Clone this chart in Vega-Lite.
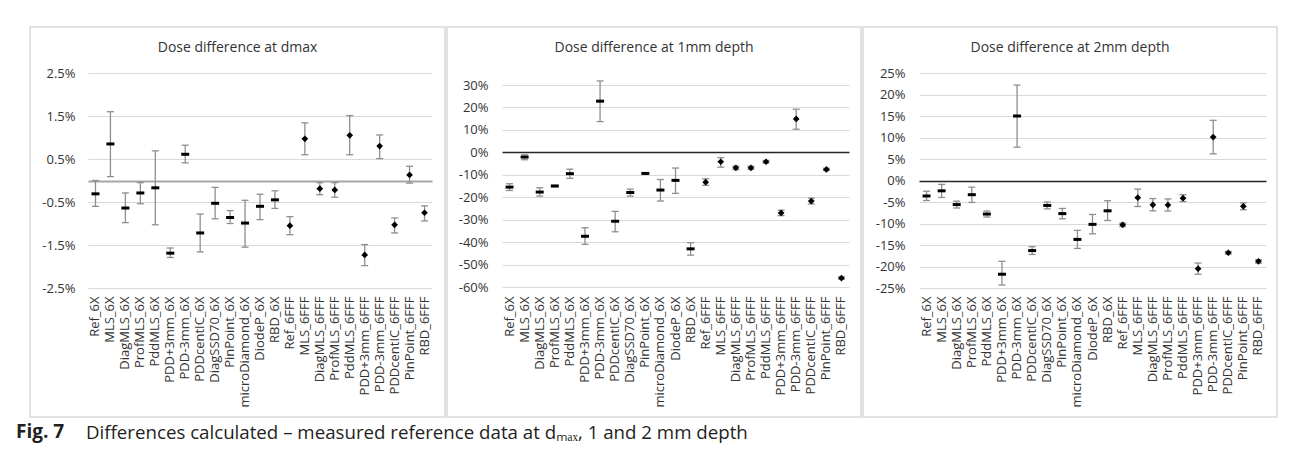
{
  "$schema": "https://vega.github.io/schema/vega-lite/v6.json",
  "background": "white",
  "padding": {"left": 16, "top": 26, "right": 4, "bottom": 4},
  "config": {
    "view": {"stroke": "#d9d9d9", "strokeWidth": 1.5},
    "font": "Open Sans",
    "axis": {"labelFont": "Open Sans", "labelFontSize": 13, "labelColor": "#333333", "ticks": false, "domain": false, "title": null},
    "title": {"font": "Open Sans", "fontSize": 14, "fontWeight": "normal", "color": "#333333"}
  },
  "datasets": {
    "d": [
      {"panel": "dmax", "name": "Ref_6X", "series": "6X", "value": -0.31, "low": -0.60, "high": 0.00},
      {"panel": "dmax", "name": "MLS_6X", "series": "6X", "value": 0.85, "low": 0.09, "high": 1.60},
      {"panel": "dmax", "name": "DiagMLS_6X", "series": "6X", "value": -0.64, "low": -0.98, "high": -0.29},
      {"panel": "dmax", "name": "ProfMLS_6X", "series": "6X", "value": -0.29, "low": -0.54, "high": -0.05},
      {"panel": "dmax", "name": "PddMLS_6X", "series": "6X", "value": -0.17, "low": -1.03, "high": 0.69},
      {"panel": "dmax", "name": "PDD+3mm_6X", "series": "6X", "value": -1.69, "low": -1.79, "high": -1.57},
      {"panel": "dmax", "name": "PDD-3mm_6X", "series": "6X", "value": 0.61, "low": 0.41, "high": 0.82},
      {"panel": "dmax", "name": "PDDcentIC_6X", "series": "6X", "value": -1.22, "low": -1.66, "high": -0.78},
      {"panel": "dmax", "name": "DiagSSD70_6X", "series": "6X", "value": -0.53, "low": -0.89, "high": -0.16},
      {"panel": "dmax", "name": "PinPoint_6X", "series": "6X", "value": -0.86, "low": -1.00, "high": -0.70},
      {"panel": "dmax", "name": "microDiamond_6X", "series": "6X", "value": -0.99, "low": -1.55, "high": -0.46},
      {"panel": "dmax", "name": "DiodeP_6X", "series": "6X", "value": -0.60, "low": -0.91, "high": -0.32},
      {"panel": "dmax", "name": "RBD_6X", "series": "6X", "value": -0.45, "low": -0.65, "high": -0.24},
      {"panel": "dmax", "name": "Ref_6FFF", "series": "6FFF", "value": -1.05, "low": -1.26, "high": -0.84},
      {"panel": "dmax", "name": "MLS_6FFF", "series": "6FFF", "value": 0.97, "low": 0.60, "high": 1.34},
      {"panel": "dmax", "name": "DiagMLS_6FFF", "series": "6FFF", "value": -0.19, "low": -0.33, "high": -0.05},
      {"panel": "dmax", "name": "ProfMLS_6FFF", "series": "6FFF", "value": -0.22, "low": -0.39, "high": -0.05},
      {"panel": "dmax", "name": "PddMLS_6FFF", "series": "6FFF", "value": 1.05, "low": 0.60, "high": 1.51},
      {"panel": "dmax", "name": "PDD+3mm_6FFF", "series": "6FFF", "value": -1.73, "low": -1.98, "high": -1.49},
      {"panel": "dmax", "name": "PDD-3mm_6FFF", "series": "6FFF", "value": 0.80, "low": 0.51, "high": 1.06},
      {"panel": "dmax", "name": "PDDcentIC_6FFF", "series": "6FFF", "value": -1.03, "low": -1.22, "high": -0.87},
      {"panel": "dmax", "name": "PinPoint_6FFF", "series": "6FFF", "value": 0.13, "low": -0.06, "high": 0.33},
      {"panel": "dmax", "name": "RBD_6FFF", "series": "6FFF", "value": -0.75, "low": -0.94, "high": -0.59},

      {"panel": "1mm", "name": "Ref_6X", "series": "6X", "value": -15.5, "low": -17.0, "high": -14.0},
      {"panel": "1mm", "name": "MLS_6X", "series": "6X", "value": -2.1, "low": -3.3, "high": -1.1},
      {"panel": "1mm", "name": "DiagMLS_6X", "series": "6X", "value": -17.7, "low": -19.5, "high": -15.8},
      {"panel": "1mm", "name": "ProfMLS_6X", "series": "6X", "value": -15.0, "low": -15.3, "high": -14.7},
      {"panel": "1mm", "name": "PddMLS_6X", "series": "6X", "value": -9.5, "low": -11.6, "high": -7.5},
      {"panel": "1mm", "name": "PDD+3mm_6X", "series": "6X", "value": -37.4, "low": -41.0, "high": -33.6},
      {"panel": "1mm", "name": "PDD-3mm_6X", "series": "6X", "value": 22.8, "low": 13.7, "high": 31.8},
      {"panel": "1mm", "name": "PDDcentIC_6X", "series": "6X", "value": -30.7, "low": -35.4, "high": -26.3},
      {"panel": "1mm", "name": "DiagSSD70_6X", "series": "6X", "value": -17.9, "low": -19.5, "high": -16.4},
      {"panel": "1mm", "name": "PinPoint_6X", "series": "6X", "value": -9.4, "low": -9.7, "high": -9.1},
      {"panel": "1mm", "name": "microDiamond_6X", "series": "6X", "value": -16.8, "low": -21.7, "high": -12.1},
      {"panel": "1mm", "name": "DiodeP_6X", "series": "6X", "value": -12.5, "low": -18.3, "high": -7.0},
      {"panel": "1mm", "name": "RBD_6X", "series": "6X", "value": -43.0, "low": -45.8, "high": -40.3},
      {"panel": "1mm", "name": "Ref_6FFF", "series": "6FFF", "value": -13.3, "low": -14.7, "high": -11.8},
      {"panel": "1mm", "name": "MLS_6FFF", "series": "6FFF", "value": -4.2, "low": -6.6, "high": -2.4},
      {"panel": "1mm", "name": "DiagMLS_6FFF", "series": "6FFF", "value": -6.9, "low": -7.7, "high": -6.1},
      {"panel": "1mm", "name": "ProfMLS_6FFF", "series": "6FFF", "value": -6.9, "low": -7.6, "high": -6.2},
      {"panel": "1mm", "name": "PddMLS_6FFF", "series": "6FFF", "value": -4.2, "low": -4.8, "high": -3.6},
      {"panel": "1mm", "name": "PDD+3mm_6FFF", "series": "6FFF", "value": -27.0, "low": -28.2, "high": -25.8},
      {"panel": "1mm", "name": "PDD-3mm_6FFF", "series": "6FFF", "value": 14.9, "low": 10.3, "high": 19.2},
      {"panel": "1mm", "name": "PDDcentIC_6FFF", "series": "6FFF", "value": -21.7, "low": -23.0, "high": -20.4},
      {"panel": "1mm", "name": "PinPoint_6FFF", "series": "6FFF", "value": -7.6, "low": -8.1, "high": -7.1},
      {"panel": "1mm", "name": "RBD_6FFF", "series": "6FFF", "value": -56.0, "low": -56.5, "high": -55.5},

      {"panel": "2mm", "name": "Ref_6X", "series": "6X", "value": -3.6, "low": -4.65, "high": -2.5},
      {"panel": "2mm", "name": "MLS_6X", "series": "6X", "value": -2.4, "low": -3.95, "high": -0.9},
      {"panel": "2mm", "name": "DiagMLS_6X", "series": "6X", "value": -5.6, "low": -6.4, "high": -4.8},
      {"panel": "2mm", "name": "ProfMLS_6X", "series": "6X", "value": -3.3, "low": -5.1, "high": -1.55},
      {"panel": "2mm", "name": "PddMLS_6X", "series": "6X", "value": -7.8, "low": -8.5, "high": -7.1},
      {"panel": "2mm", "name": "PDD+3mm_6X", "series": "6X", "value": -21.8, "low": -24.3, "high": -18.8},
      {"panel": "2mm", "name": "PDD-3mm_6X", "series": "6X", "value": 15.0, "low": 7.75, "high": 22.2},
      {"panel": "2mm", "name": "PDDcentIC_6X", "series": "6X", "value": -16.3, "low": -17.2, "high": -15.4},
      {"panel": "2mm", "name": "DiagSSD70_6X", "series": "6X", "value": -5.8, "low": -6.6, "high": -5.0},
      {"panel": "2mm", "name": "PinPoint_6X", "series": "6X", "value": -7.7, "low": -8.9, "high": -6.5},
      {"panel": "2mm", "name": "microDiamond_6X", "series": "6X", "value": -13.7, "low": -15.8, "high": -11.6},
      {"panel": "2mm", "name": "DiodeP_6X", "series": "6X", "value": -10.2, "low": -12.4, "high": -7.9},
      {"panel": "2mm", "name": "RBD_6X", "series": "6X", "value": -7.05, "low": -9.3, "high": -4.7},
      {"panel": "2mm", "name": "Ref_6FFF", "series": "6FFF", "value": -10.3, "low": -10.7, "high": -9.9},
      {"panel": "2mm", "name": "MLS_6FFF", "series": "6FFF", "value": -4.0, "low": -6.05, "high": -2.0},
      {"panel": "2mm", "name": "DiagMLS_6FFF", "series": "6FFF", "value": -5.65, "low": -7.05, "high": -4.2},
      {"panel": "2mm", "name": "ProfMLS_6FFF", "series": "6FFF", "value": -5.7, "low": -7.1, "high": -4.3},
      {"panel": "2mm", "name": "PddMLS_6FFF", "series": "6FFF", "value": -4.1, "low": -4.9, "high": -3.3},
      {"panel": "2mm", "name": "PDD+3mm_6FFF", "series": "6FFF", "value": -20.5, "low": -21.8, "high": -19.2},
      {"panel": "2mm", "name": "PDD-3mm_6FFF", "series": "6FFF", "value": 10.1, "low": 6.2, "high": 14.0},
      {"panel": "2mm", "name": "PDDcentIC_6FFF", "series": "6FFF", "value": -16.8, "low": -17.1, "high": -16.5},
      {"panel": "2mm", "name": "PinPoint_6FFF", "series": "6FFF", "value": -6.0, "low": -6.8, "high": -5.2},
      {"panel": "2mm", "name": "RBD_6FFF", "series": "6FFF", "value": -18.8, "low": -19.2, "high": -18.4}
    ]
  },
  "title": {
    "text": "Differences calculated – measured reference data at dₘₐₓ, 1 and 2 mm depth",
    "orient": "bottom", "anchor": "start", "frame": "group", "dx": 56, "offset": -18,
    "fontSize": 18.7, "fontWeight": "normal", "color": "#231f20"
  },
  "vconcat": [
    {
      "title": {
        "text": "Fig. 7", "orient": "bottom", "anchor": "start", "frame": "group", "dx": -14, "offset": 5,
        "fontSize": 19, "fontWeight": "bold", "color": "#231f20"
      },
      "spacing": 0,
      "hconcat": [
        {
          "width": 415, "height": 390,
          "data": {"name": "d"},
          "transform": [{"filter": "datum.panel === 'dmax'"}],
          "title": {"text": "Dose difference at dmax", "offset": -28},
          "encoding": {
            "x": {"field": "name", "type": "nominal",
              "sort": ["Ref_6X","MLS_6X","DiagMLS_6X","ProfMLS_6X","PddMLS_6X","PDD+3mm_6X","PDD-3mm_6X","PDDcentIC_6X","DiagSSD70_6X","PinPoint_6X","microDiamond_6X","DiodeP_6X","RBD_6X","Ref_6FFF","MLS_6FFF","DiagMLS_6FFF","ProfMLS_6FFF","PddMLS_6FFF","PDD+3mm_6FFF","PDD-3mm_6FFF","PDDcentIC_6FFF","PinPoint_6FFF","RBD_6FFF"],
              "scale": {"range": [58, 402], "paddingInner": 0, "paddingOuter": 0},
              "axis": {"offset": -129, "labelAngle": -90, "labelPadding": 8, "grid": false, "labelOverlap": false}}
          },
          "layer": [
            {"mark": {"type": "rule", "color": "#8f8f8f", "strokeWidth": 1.3},
             "encoding": {
               "y": {"field": "low", "type": "quantitative",
                 "scale": {"domain": [-2.5, 2.5], "range": [261, 46], "nice": false, "zero": false},
                 "axis": {"offset": -58, "labelPadding": 13, "values": [-2.5, -1.5, -0.5, 0, 0.5, 1.5, 2.5], "tickCount": 30, "grid": true, "labelOverlap": false,
                   "labelExpr": "datum.value === 0 ? '' : (datum.value < 0 ? '-' : '') + format(abs(datum.value), '.1f') + '%'",
                   "gridColor": {"condition": {"test": "datum.value === 0", "value": "#a6a6a6"}, "value": "#d9d9d9"},
                   "gridWidth": {"condition": {"test": "datum.value === 0", "value": 2}, "value": 1}}},
               "y2": {"field": "high"}}},
            {"mark": {"type": "tick", "color": "#8f8f8f", "size": 7, "thickness": 1.3, "opacity": 1},
             "encoding": {"y": {"field": "low", "type": "quantitative"}}},
            {"mark": {"type": "tick", "color": "#8f8f8f", "size": 7, "thickness": 1.3, "opacity": 1},
             "encoding": {"y": {"field": "high", "type": "quantitative"}}},
            {"transform": [{"filter": "datum.series === '6X'"}],
             "mark": {"type": "tick", "color": "black", "size": 8, "thickness": 3, "opacity": 1},
             "encoding": {"y": {"field": "value", "type": "quantitative"}}},
            {"transform": [{"filter": "datum.series === '6FFF'"}],
             "mark": {"type": "point", "shape": "diamond", "filled": true, "color": "black", "size": 45, "opacity": 1},
             "encoding": {"y": {"field": "value", "type": "quantitative"}}}
          ]
        },
        {
          "width": 414, "height": 390,
          "data": {"name": "d"},
          "transform": [{"filter": "datum.panel === '1mm'"}],
          "title": {"text": "Dose difference at 1mm depth", "offset": -28},
          "encoding": {
            "x": {"field": "name", "type": "nominal",
              "sort": ["Ref_6X","MLS_6X","DiagMLS_6X","ProfMLS_6X","PddMLS_6X","PDD+3mm_6X","PDD-3mm_6X","PDDcentIC_6X","DiagSSD70_6X","PinPoint_6X","microDiamond_6X","DiodeP_6X","RBD_6X","Ref_6FFF","MLS_6FFF","DiagMLS_6FFF","ProfMLS_6FFF","PddMLS_6FFF","PDD+3mm_6FFF","PDD-3mm_6FFF","PDDcentIC_6FFF","PinPoint_6FFF","RBD_6FFF"],
              "scale": {"range": [55, 402], "paddingInner": 0, "paddingOuter": 0},
              "axis": {"offset": -130, "labelAngle": -90, "labelPadding": 9, "grid": false, "labelOverlap": false}}
          },
          "layer": [
            {"mark": {"type": "rule", "color": "#8f8f8f", "strokeWidth": 1.3},
             "encoding": {
               "y": {"field": "low", "type": "quantitative",
                 "scale": {"domain": [-60, 30], "range": [260, 58], "nice": false, "zero": false},
                 "axis": {"offset": -55, "labelPadding": 14, "values": [-60, -50, -40, -30, -20, -10, 0, 10, 20, 30], "tickCount": 30, "grid": true, "labelOverlap": false,
                   "labelExpr": "(datum.value < 0 ? '-' : '') + format(abs(datum.value), 'd') + '%'",
                   "gridColor": {"condition": {"test": "datum.value === 0", "value": "#262626"}, "value": "#d9d9d9"},
                   "gridWidth": {"condition": {"test": "datum.value === 0", "value": 1.5}, "value": 1}}},
               "y2": {"field": "high"}}},
            {"mark": {"type": "tick", "color": "#8f8f8f", "size": 7, "thickness": 1.3, "opacity": 1},
             "encoding": {"y": {"field": "low", "type": "quantitative"}}},
            {"mark": {"type": "tick", "color": "#8f8f8f", "size": 7, "thickness": 1.3, "opacity": 1},
             "encoding": {"y": {"field": "high", "type": "quantitative"}}},
            {"transform": [{"filter": "datum.series === '6X'"}],
             "mark": {"type": "tick", "color": "black", "size": 8, "thickness": 3, "opacity": 1},
             "encoding": {"y": {"field": "value", "type": "quantitative"}}},
            {"transform": [{"filter": "datum.series === '6FFF'"}],
             "mark": {"type": "point", "shape": "diamond", "filled": true, "color": "black", "size": 45, "opacity": 1},
             "encoding": {"y": {"field": "value", "type": "quantitative"}}}
          ]
        },
        {
          "width": 414, "height": 390,
          "data": {"name": "d"},
          "transform": [{"filter": "datum.panel === '2mm'"}],
          "title": {"text": "Dose difference at 2mm depth", "offset": -28},
          "encoding": {
            "x": {"field": "name", "type": "nominal",
              "sort": ["Ref_6X","MLS_6X","DiagMLS_6X","ProfMLS_6X","PddMLS_6X","PDD+3mm_6X","PDD-3mm_6X","PDDcentIC_6X","DiagSSD70_6X","PinPoint_6X","microDiamond_6X","DiodeP_6X","RBD_6X","Ref_6FFF","MLS_6FFF","DiagMLS_6FFF","ProfMLS_6FFF","PddMLS_6FFF","PDD+3mm_6FFF","PDD-3mm_6FFF","PDDcentIC_6FFF","PinPoint_6FFF","RBD_6FFF"],
              "scale": {"range": [56, 403], "paddingInner": 0, "paddingOuter": 0},
              "axis": {"offset": -129, "labelAngle": -90, "labelPadding": 8, "grid": false, "labelOverlap": false}}
          },
          "layer": [
            {"mark": {"type": "rule", "color": "#8f8f8f", "strokeWidth": 1.3},
             "encoding": {
               "y": {"field": "low", "type": "quantitative",
                 "scale": {"domain": [-25, 25], "range": [261, 46], "nice": false, "zero": false},
                 "axis": {"offset": -56, "labelPadding": 14, "values": [-25, -20, -15, -10, -5, 0, 5, 10, 15, 20, 25], "tickCount": 30, "grid": true, "labelOverlap": false,
                   "labelExpr": "(datum.value < 0 ? '-' : '') + format(abs(datum.value), 'd') + '%'",
                   "gridColor": {"condition": {"test": "datum.value === 0", "value": "#262626"}, "value": "#d9d9d9"},
                   "gridWidth": {"condition": {"test": "datum.value === 0", "value": 1.5}, "value": 1}}},
               "y2": {"field": "high"}}},
            {"mark": {"type": "tick", "color": "#8f8f8f", "size": 7, "thickness": 1.3, "opacity": 1},
             "encoding": {"y": {"field": "low", "type": "quantitative"}}},
            {"mark": {"type": "tick", "color": "#8f8f8f", "size": 7, "thickness": 1.3, "opacity": 1},
             "encoding": {"y": {"field": "high", "type": "quantitative"}}},
            {"transform": [{"filter": "datum.series === '6X'"}],
             "mark": {"type": "tick", "color": "black", "size": 8, "thickness": 3, "opacity": 1},
             "encoding": {"y": {"field": "value", "type": "quantitative"}}},
            {"transform": [{"filter": "datum.series === '6FFF'"}],
             "mark": {"type": "point", "shape": "diamond", "filled": true, "color": "black", "size": 45, "opacity": 1},
             "encoding": {"y": {"field": "value", "type": "quantitative"}}}
          ]
        }
      ]
    }
  ]
}
